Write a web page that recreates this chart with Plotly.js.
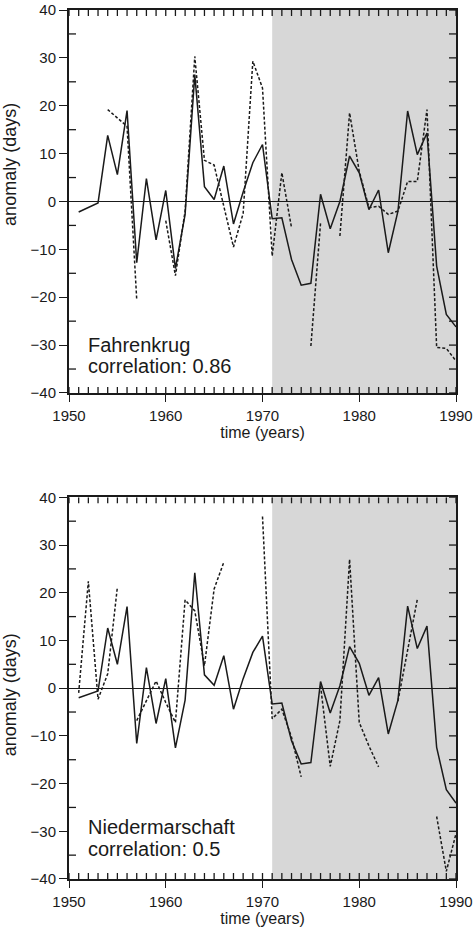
<!DOCTYPE html>
<html>
<head>
<meta charset="utf-8">
<script src="https://cdn.plot.ly/plotly-3.0.1.min.js"></script>
<style>
html,body{margin:0;padding:0;background:#fff;}
#chart{width:475px;height:931px;}
</style>
</head>
<body>
<div id="chart"></div>
<script>
// ---- data ----
const years = [1951,1952,1953,1954,1955,1956,1957,1958,1959,1960,
               1961,1962,1963,1964,1965,1966,1967,1968,1969,1970,
               1971,1972,1973,1974,1975,1976,1977,1978,1979,1980,
               1981,1982,1983,1984,1985,1986,1987,1988,1989,1990];

// Fahrenkrug (top panel): solid and dashed curves (null = no value)
const fahrenkrugSolid = [-2.2,null,-0.3,13.8,5.6,19.0,-12.8,4.8,-8.0,2.3,
                         -14.0,-2.7,26.5,3.1,0.4,7.4,-4.7,2.0,8.1,11.9,
                         -3.6,-3.4,-12.1,-17.5,-17.1,1.5,-5.7,0.0,9.5,6.0,
                         -1.7,2.4,-10.7,-2.0,18.9,9.8,14.3,-13.5,-23.6,-26.2];
const fahrenkrugDashed = [null,null,null,19.2,17.5,15.7,-20.5,null,null,-4.0,
                          -15.5,-2.0,30.3,8.6,7.6,-1.0,-9.5,-2.5,29.3,23.7,
                          -11.4,6.0,-5.5,null,-30.2,-4.5,null,-7.2,18.5,6.3,
                          -1.3,-1.0,-2.7,-2.0,4.2,4.2,19.2,-30.5,-30.7,-33.3];

// Niedermarschaft (bottom panel)
const niederSolid = [-2.0,null,-0.6,12.6,5.0,17.1,-11.6,4.3,-7.4,2.0,
                     -12.5,-2.5,24.2,2.8,0.6,6.8,-4.4,2.0,7.5,10.9,
                     -3.3,-3.1,-11.0,-15.9,-15.6,1.4,-5.2,0.5,8.7,5.2,
                     -1.5,2.2,-9.6,-2.5,17.2,8.3,13.0,-12.4,-21.3,-24.1];
const niederDashed = [-1.0,22.4,-2.3,3.0,21.2,null,-6.8,-2.7,1.5,-3.0,
                      -7.2,18.5,16.2,4.7,20.8,26.4,null,null,null,36.0,
                      -6.4,-4.4,-10.3,-18.6,null,0.5,-16.4,-6.8,27.0,-7.2,
                      -12.1,-16.5,null,-2.7,8.0,18.6,null,-26.9,-38.4,-30.5];

const stations = ["Fahrenkrug", "Niedermarschaft"];
const correlations = ["0.86", "0.5"];
const shadeStart = 1971, shadeEnd = 1990;
const xRange = [1950, 1990], yRange = [-40, 40];

// ---- styling ----
const FONT = "Liberation Sans, Arial, Helvetica, sans-serif";
const INK = "#1a1a1a";

function solidTrace(y, xa, ya) {
  return {x: years, y: y, xaxis: xa, yaxis: ya, type: "scatter", mode: "lines",
          connectgaps: true, line: {color: INK, width: 1.5}, hoverinfo: "skip", showlegend: false};
}
function dashedTrace(y, xa, ya) {
  return {x: years, y: y, xaxis: xa, yaxis: ya, type: "scatter", mode: "lines",
          connectgaps: false, line: {color: INK, width: 1.5, dash: "3px,2px"}, hoverinfo: "skip", showlegend: false};
}

const data = [
  solidTrace(fahrenkrugSolid, "x", "y"),
  dashedTrace(fahrenkrugDashed, "x", "y"),
  solidTrace(niederSolid, "x2", "y2"),
  dashedTrace(niederDashed, "x2", "y2")
];

function mainX(anchor) {
  return {anchor: anchor, domain: [0, 1], range: xRange, tick0: 1950, dtick: 10,
          ticks: "outside", ticklen: 7, tickwidth: 1, tickcolor: INK,
          showline: true, mirror: true, linewidth: 2, linecolor: INK, showgrid: false, zeroline: false,
          tickfont: {family: FONT, size: 15, color: INK}, ticklabelstandoff: 1,
          title: {text: "time (years)", font: {family: FONT, size: 16, color: INK}, standoff: 4}};
}
function mainY(anchor, domain) {
  return {anchor: anchor, domain: domain, range: yRange, tick0: 0, dtick: 10,
          ticks: "outside", ticklen: 8, tickwidth: 1, tickcolor: INK,
          showline: true, mirror: true, linewidth: 2, linecolor: INK, showgrid: false,
          zeroline: true, zerolinecolor: INK, zerolinewidth: 1,
          tickfont: {family: FONT, size: 15, color: INK}};
}

// frame decorations: shaded period and inner ticks on all sides (on the axis scales)
function frameShapes(xr, yr) {
  const yd = yr + " domain";
  const tickLine = {color: INK, width: 1.3};
  const out = [];
  out.push({type: "rect", xref: xr, yref: yd, x0: shadeStart, x1: shadeEnd, y0: 0, y1: 1,
            fillcolor: "#d7d7d7", line: {width: 0}, layer: "below"});
  for (let v = xRange[0]; v <= xRange[1]; v += 1) {
    out.push({type: "line", xref: xr, yref: yr, x0: v, x1: v, ysizemode: "pixel", yanchor: yRange[0],
              y0: 0, y1: 6, line: tickLine});
    out.push({type: "line", xref: xr, yref: yr, x0: v, x1: v, ysizemode: "pixel", yanchor: yRange[1],
              y0: 0, y1: -6, line: tickLine});
  }
  for (let v = yRange[0]; v <= yRange[1]; v += 5) {
    out.push({type: "line", xref: xr, yref: yr, y0: v, y1: v, xsizemode: "pixel", xanchor: xRange[1],
              x0: 0, x1: -7, line: tickLine});
    if (v % 10 !== 0) {
      out.push({type: "line", xref: xr, yref: yr, y0: v, y1: v, xsizemode: "pixel", xanchor: xRange[0],
                x0: 0, x1: 7, line: tickLine});
    }
  }
  return out;
}

function label(text, yref, y) {
  return {text: text, xref: "x domain", yref: yref, x: 0.045, y: y, xanchor: "left", yanchor: "middle",
          showarrow: false, font: {family: FONT, size: 20, color: INK}};
}
function yTitle(yref, y) {
  return {text: "anomaly (days)", textangle: -90, xref: "paper", yref: yref, x: -0.152, y: y,
          xanchor: "center", yanchor: "middle", showarrow: false, font: {family: FONT, size: 18, color: INK}};
}

const topDomain = [0.5593, 1], bottomDomain = [0, 0.4392];

const layout = {
  width: 475, height: 931,
  margin: {l: 69, r: 19, t: 10, b: 52},
  paper_bgcolor: "#fff", plot_bgcolor: "#fff",
  showlegend: false,
  xaxis: mainX("y"),
  yaxis: mainY("x", topDomain),
  xaxis2: mainX("y2"),
  yaxis2: mainY("x2", bottomDomain),
  shapes: frameShapes("x", "y").concat(frameShapes("x2", "y2")),
  annotations: [
    label(stations[0], "y domain", 0.126),
    label("correlation: " + correlations[0], "y domain", 0.071),
    label(stations[1], "y2 domain", 0.135),
    label("correlation: " + correlations[1], "y2 domain", 0.079),
    yTitle("y domain", 0.596),
    yTitle("y2 domain", 0.482)
  ]
};

Plotly.newPlot("chart", data, layout, {staticPlot: true, displayModeBar: false});
</script>
</body>
</html>
